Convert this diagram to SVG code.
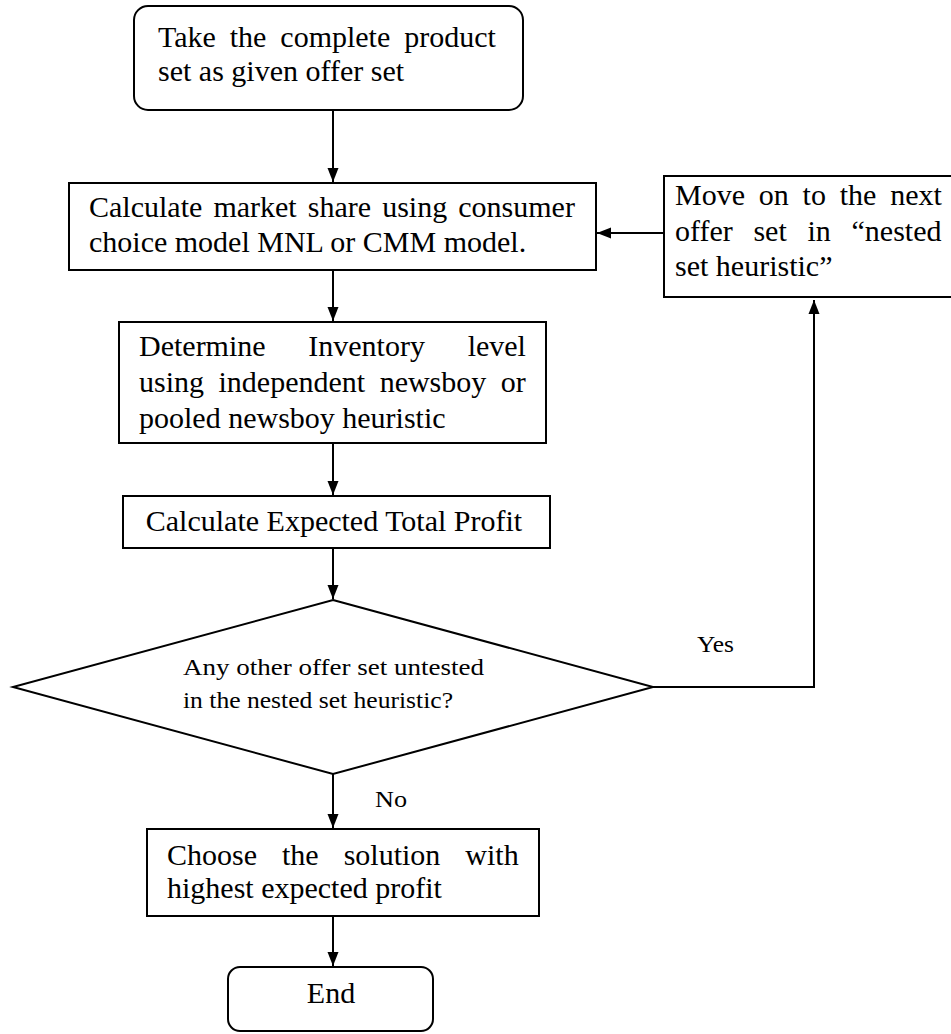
<svg xmlns="http://www.w3.org/2000/svg" width="951" height="1034" viewBox="0 0 951 1034">
<defs>
<marker id="ah" markerWidth="14" markerHeight="12" refX="14" refY="6" orient="auto" markerUnits="userSpaceOnUse">
<path d="M0,0.5 L14,6 L0,11.5 z" fill="#000"/>
</marker>
<style>
.box{fill:#fff;stroke:#000;stroke-width:2}
.t{font-family:"Liberation Serif","Times New Roman",serif;font-size:30px;fill:#000}
.s{font-family:"Liberation Serif","Times New Roman",serif;font-size:24px;fill:#000}
.c{fill:none;stroke:#000;stroke-width:2}
</style>
</defs>
<rect width="951" height="1034" fill="#fff"/>
<g id="connectors">
<line class="c" x1="333" y1="110" x2="333" y2="182" marker-end="url(#ah)"/>
<line class="c" x1="333" y1="270" x2="333" y2="321" marker-end="url(#ah)"/>
<line class="c" x1="333" y1="443" x2="333" y2="495" marker-end="url(#ah)"/>
<line class="c" x1="333" y1="548" x2="333" y2="599" marker-end="url(#ah)"/>
<line class="c" x1="333" y1="774" x2="333" y2="828" marker-end="url(#ah)"/>
<line class="c" x1="333" y1="916" x2="333" y2="966" marker-end="url(#ah)"/>
<line class="c" x1="664" y1="233" x2="597" y2="233" marker-end="url(#ah)"/>
<polyline class="c" points="653,687 814,687 814,300" marker-end="url(#ah)"/>
<text class="s" x="697" y="652" font-size="25" textLength="37" lengthAdjust="spacingAndGlyphs">Yes</text>
<text class="s" x="375" y="807" font-size="24" textLength="32" lengthAdjust="spacingAndGlyphs">No</text>
</g>
<g id="start">
<rect class="box" x="134" y="6" width="389" height="104" rx="14"/>
<text class="t" x="158" y="47" style="word-spacing:6.4px">Take the complete product</text>
<text class="t" x="158" y="81">set as given offer set</text>
</g>
<g id="market">
<rect class="box" x="69" y="183" width="527" height="87"/>
<text class="t" x="89" y="217" style="word-spacing:3.6px">Calculate market share using consumer</text>
<text class="t" x="89" y="252">choice model MNL or CMM model.</text>
</g>
<g id="next">
<rect class="box" x="664" y="176" width="300" height="121"/>
<text class="t" x="675" y="205" style="word-spacing:6.3px">Move on to the next</text>
<text class="t" x="675" y="240.5" style="word-spacing:13.2px">offer set in “nested</text>
<text class="t" x="675" y="276">set heuristic”</text>
</g>
<g id="inventory">
<rect class="box" x="119" y="322" width="427" height="121"/>
<text class="t" x="139" y="356" style="word-spacing:35.2px">Determine Inventory level</text>
<text class="t" x="139" y="392" style="word-spacing:7px">using independent newsboy or</text>
<text class="t" x="139" y="428">pooled newsboy heuristic</text>
</g>
<g id="profit">
<rect class="box" x="123" y="496" width="427" height="52"/>
<text class="t" x="334" y="531" text-anchor="middle">Calculate Expected Total Profit</text>
</g>
<g id="decision">
<polygon class="box" points="333,600 653,687 333,774 13,687"/>
<text class="s" x="183" y="675" textLength="301" lengthAdjust="spacingAndGlyphs">Any other offer set untested</text>
<text class="s" x="183" y="708" textLength="270" lengthAdjust="spacingAndGlyphs">in the nested set heuristic?</text>
</g>
<g id="choose">
<rect class="box" x="147" y="829" width="392" height="87"/>
<text class="t" x="167" y="865" style="word-spacing:17.5px">Choose the solution with</text>
<text class="t" x="167" y="898">highest expected profit</text>
</g>
<g id="end">
<rect class="box" x="228" y="967" width="205" height="64" rx="12"/>
<text class="t" x="331" y="1003" text-anchor="middle">End</text>
</g>
</svg>
